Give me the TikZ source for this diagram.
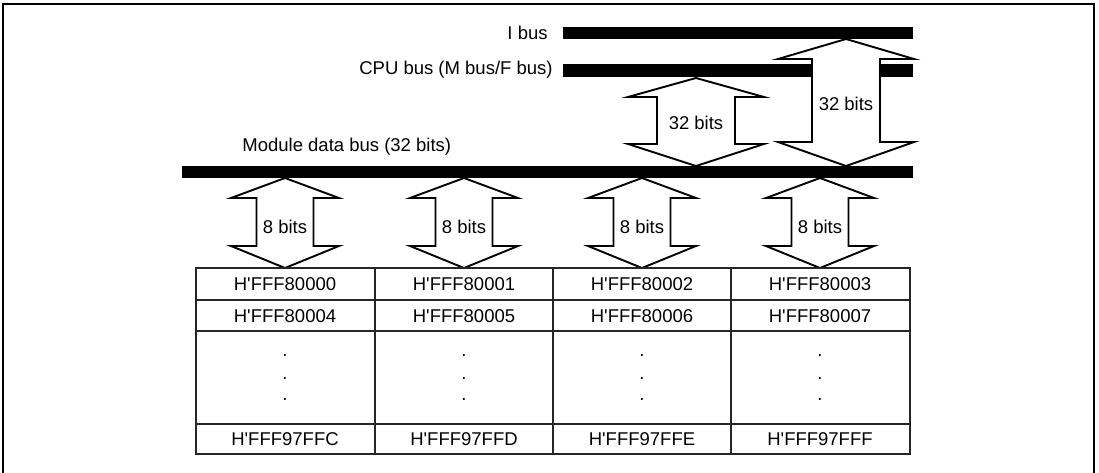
\documentclass[tikz,border=0pt]{standalone}
\usepackage{fontspec}
\setmainfont{Liberation Sans}
\usetikzlibrary{positioning}

% double headed block arrow: cx, tip top, head base top, head base bottom, tip bottom, head half width, shaft half width
\newcommand{\dblarrow}[7]{%
  \draw[blockarrow] (#1,#2) -- ({#1+#6},#3) -- ({#1+#7},#3) -- ({#1+#7},#4) -- ({#1+#6},#4) -- (#1,#5)
    -- ({#1-#6},#4) -- ({#1-#7},#4) -- ({#1-#7},#3) -- ({#1-#6},#3) -- cycle;}
\newcommand{\addr}[1]{H\textquotesingle FFF#1}

\begin{document}
\begin{tikzpicture}[x=0.5pt, y=-0.5pt, every node/.style={font=\fontsize{9.25}{11}\selectfont, inner sep=0pt}]
    \tikzset{
        bus/.style={fill=black},
        blockarrow/.style={draw=black, fill=white, line width=0.95pt, line join=miter},
        grid/.style={draw=black!85, line width=0.95pt},
        frame/.style={draw=black, line width=1pt}
    }
    \useasboundingbox (0,0) rectangle (1099,472);

    % outer frame
    \draw[frame] (3,476) -- (3,4) -- (1094,4) -- (1094,476);

    % --- BUSES ---
    \fill[bus] (563,27) rectangle (913,39);
    \node (ibus) [anchor=east] at (548,33) {I bus};
    \fill[bus] (563,64) rectangle (913,77);
    \node (cpubus) [anchor=east] at (553,70) {CPU bus (M bus/F bus)};
    \fill[bus] (182,166) rectangle (913,178);
    \node (modbus) [anchor=west] at (242,147) {Module data bus (32 bits)};

    % --- 32 BIT ARROWS ---
    \dblarrow{696}{78}{97}{144}{166}{68}{39}
    \node (w1) at (696,123) {32 bits};
    \dblarrow{846}{39}{59}{142}{166}{68}{34}
    \node (w2) at (846,104) {32 bits};

    % --- 8 BIT ARROWS ---
    \dblarrow{285}{178}{198}{246}{268}{54}{28.5}
    \node (b0) at (285,227) {8 bits};
    \dblarrow{464}{178}{198}{246}{268}{54}{28.5}
    \node (b1) at (464,227) {8 bits};
    \dblarrow{642}{178}{198}{246}{268}{54}{28.5}
    \node (b2) at (642,227) {8 bits};
    \dblarrow{820}{178}{198}{246}{268}{54}{28.5}
    \node (b3) at (820,227) {8 bits};

    % --- ADDRESS TABLE ---
    \draw[grid] (196,268) rectangle (910,454);
    \draw[grid] (196,300) -- (910,300);
    \draw[grid] (196,331) -- (910,331);
    \draw[grid] (196,424) -- (910,424);
    \draw[grid] (375,268) -- (375,454);
    \draw[grid] (553,268) -- (553,454);
    \draw[grid] (731,268) -- (731,454);

    \node (a0) at (285,284) {\addr{80000}};
    \node (a1) at (464,284) {\addr{80001}};
    \node (a2) at (642,284) {\addr{80002}};
    \node (a3) at (820,284) {\addr{80003}};

    \node (a4) at (285,316) {\addr{80004}};
    \node (a5) at (464,316) {\addr{80005}};
    \node (a6) at (642,316) {\addr{80006}};
    \node (a7) at (820,316) {\addr{80007}};

    \foreach \cx [count=\i] in {285,464,642,820} {
        \node (dot\i a) at (\cx,356) {.};
        \node (dot\i b) at (\cx,379) {.};
        \node (dot\i c) at (\cx,400) {.};
    }

    \node (z0) at (285,439) {\addr{97FFC}};
    \node (z1) at (464,439) {\addr{97FFD}};
    \node (z2) at (642,439) {\addr{97FFE}};
    \node (z3) at (820,439) {\addr{97FFF}};

\end{tikzpicture}
\end{document}
